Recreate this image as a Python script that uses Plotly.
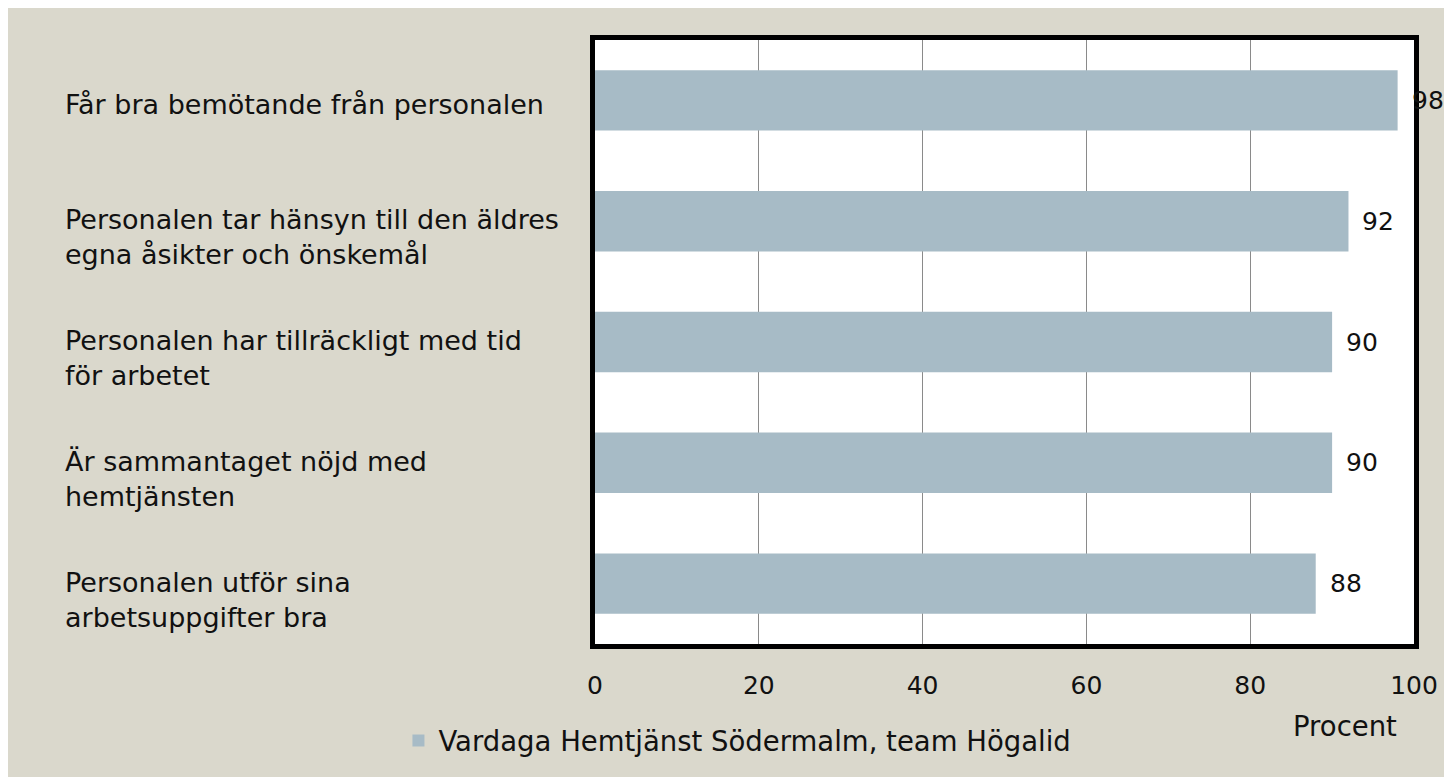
import plotly.graph_objects as go

categories = [
    "Får bra bemötande från personalen",
    "Personalen tar hänsyn till den äldres<br>egna åsikter och önskemål",
    "Personalen har tillräckligt med tid<br>för arbetet",
    "Är sammantaget nöjd med<br>hemtjänsten",
    "Personalen utför sina<br>arbetsuppgifter bra",
]
values = [98, 92, 90, 90, 88]
series_name = "Vardaga Hemtjänst Södermalm, team Högalid"
tick_vals = [0, 20, 40, 60, 80, 100]
axis_title = "Procent"

FONT = "DejaVu Sans"
BG = "#dad8cc"
BAR = "#a7bbc6"
TXT = "#111"

fig = go.Figure()
fig.add_trace(go.Bar(
    y=categories, x=values, orientation="h", name=series_name,
    marker=dict(color=BAR, line=dict(width=0)),
    showlegend=True,
))

annotations = []
for c, v in zip(categories, values):
    annotations.append(dict(
        x=v, y=c, xref="x", yref="y", text=str(v), showarrow=False,
        xanchor="left", xshift=12, font=dict(family=FONT, size=25, color=TXT),
    ))
    two = "<br>" in c
    annotations.append(dict(
        x=-0.6496, y=c, xref="paper", yref="y", text=c, showarrow=False,
        xanchor="left", align="left", yshift=-16 if two else -4,
        font=dict(family=FONT, size=27, color=TXT),
    ))
annotations.append(dict(
    x=0.916, y=-0.1355, xref="paper", yref="paper", text=axis_title, showarrow=False,
    xanchor="center", yanchor="middle", font=dict(family=FONT, size=27.5, color=TXT),
))

fig.update_layout(
    width=1444, height=769,
    margin=dict(l=587, r=38, t=32, b=126),
    paper_bgcolor=BG, plot_bgcolor="white",
    bargap=0.5,
    font=dict(family=FONT, size=25, color=TXT),
    annotations=annotations,
    legend=dict(orientation="h", x=-0.240, y=-0.160, xanchor="left", yanchor="middle",
                bgcolor="rgba(0,0,0,0)", font=dict(family=FONT, size=27.5, color=TXT),
                itemwidth=30),
    xaxis=dict(range=[0, 100], tickvals=tick_vals, showgrid=True, gridcolor="#8a8a8a",
               gridwidth=1, zeroline=False, showline=True, mirror=True, linecolor="black",
               linewidth=5, ticks="", ticklabelstandoff=15,
               tickfont=dict(family=FONT, size=25, color=TXT)),
    yaxis=dict(autorange="reversed", showticklabels=False, showgrid=False, zeroline=False,
               showline=True, mirror=True, linecolor="black", linewidth=5, ticks=""),
)

fig.write_html("out.html")
